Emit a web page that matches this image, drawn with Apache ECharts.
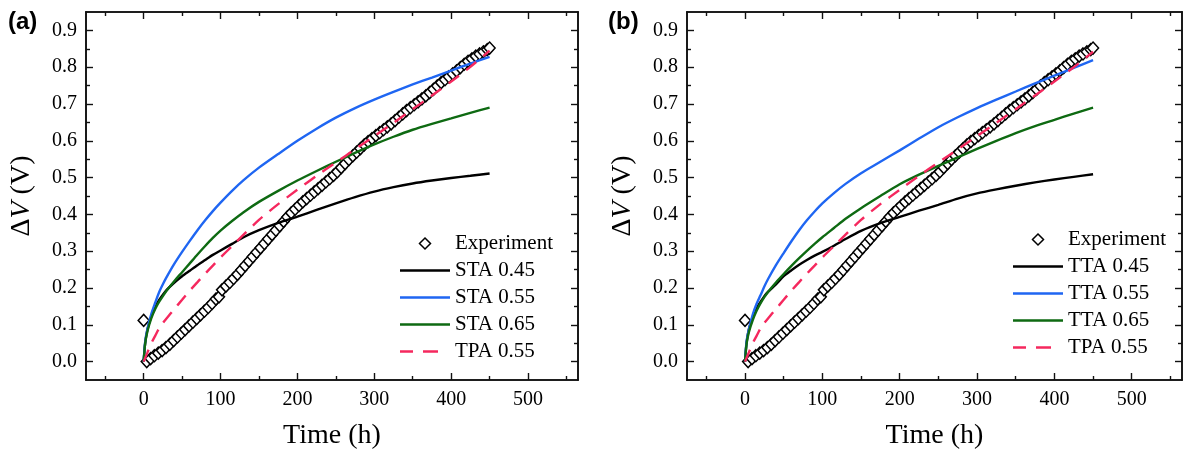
<!DOCTYPE html>
<html lang="en">
<head>
<meta charset="UTF-8">
<title>ΔV vs time</title>
<script src="https://cdn.jsdelivr.net/npm/echarts@6/dist/echarts.min.js"></script>
<style>
  html, body { margin: 0; padding: 0; background: #fff; }
  #chart { width: 1188px; height: 452px; }
</style>
</head>
<body>
<div id="chart"></div>
<script>
// experiment (same in both panels)
const expT = [0, 4, 9, 14, 19, 24, 29, 34, 39, 44, 49, 54, 59, 64, 69, 74, 79, 84, 89, 94, 98,
  102, 107, 112, 117, 122, 127, 132, 137, 142, 147, 152, 157, 162, 167, 172, 177, 182, 187, 192, 197,
  202, 207, 212, 217, 222, 227, 232, 237, 242, 247, 252, 257, 262, 267, 272, 277, 282, 287, 292, 297,
  302, 307, 312, 317, 322, 327, 332, 337, 342, 347, 352, 357, 362, 367, 372, 377, 382, 387, 392, 397,
  402, 407, 412, 417, 422, 427, 432, 437, 442, 447, 450];
const expV = [0.112, 0.0, 0.008, 0.016, 0.023, 0.03, 0.038, 0.047, 0.057, 0.067, 0.077, 0.087, 0.097, 0.107, 0.117, 0.127, 0.137, 0.147, 0.158, 0.17, 0.176,
  0.195, 0.205, 0.215, 0.226, 0.237, 0.249, 0.261, 0.273, 0.285, 0.297, 0.309, 0.321, 0.333, 0.345, 0.357, 0.369, 0.381, 0.393, 0.404, 0.414,
  0.424, 0.434, 0.443, 0.452, 0.461, 0.47, 0.479, 0.488, 0.497, 0.506, 0.516, 0.527, 0.538, 0.549, 0.559, 0.569, 0.579, 0.589, 0.598, 0.606,
  0.614, 0.622, 0.63, 0.638, 0.646, 0.655, 0.664, 0.673, 0.682, 0.69, 0.698, 0.706, 0.714, 0.722, 0.731, 0.74, 0.749, 0.758, 0.766, 0.774,
  0.782, 0.79, 0.799, 0.808, 0.816, 0.823, 0.83, 0.836, 0.842, 0.848, 0.852];

// model curves, sampled at fitT
const fitT = [0, 2, 5, 10, 15, 20, 25, 30, 40, 50, 60, 70, 80, 90, 100, 115, 130, 150, 175, 200, 225, 250, 275, 300, 325, 350, 375, 400, 425, 450];
// panel (a)
const sta45 = [0, 0.05, 0.088, 0.123, 0.148, 0.167, 0.182, 0.195, 0.215, 0.232, 0.247, 0.262, 0.276, 0.29, 0.302, 0.32, 0.338, 0.357, 0.377, 0.394, 0.412, 0.43, 0.447, 0.462, 0.474, 0.484, 0.492, 0.499, 0.505, 0.511];
const sta55 = [0, 0.055, 0.09, 0.13, 0.16, 0.188, 0.21, 0.23, 0.266, 0.298, 0.328, 0.357, 0.384, 0.409, 0.432, 0.464, 0.493, 0.527, 0.564, 0.6, 0.633, 0.663, 0.689, 0.712, 0.733, 0.753, 0.772, 0.791, 0.81, 0.828];
const sta65 = [0, 0.05, 0.083, 0.118, 0.143, 0.162, 0.178, 0.193, 0.219, 0.243, 0.267, 0.291, 0.314, 0.336, 0.356, 0.382, 0.406, 0.434, 0.464, 0.492, 0.518, 0.543, 0.567, 0.59, 0.611, 0.63, 0.646, 0.661, 0.676, 0.69];
const tpaA = [0, 0.01, 0.025, 0.05, 0.07, 0.09, 0.105, 0.118, 0.143, 0.168, 0.193, 0.216, 0.239, 0.261, 0.283, 0.314, 0.345, 0.385, 0.428, 0.467, 0.505, 0.541, 0.577, 0.613, 0.649, 0.686, 0.723, 0.761, 0.801, 0.845];
// panel (b)
const tta45 = [0, 0.05, 0.088, 0.122, 0.145, 0.162, 0.178, 0.19, 0.21, 0.232, 0.248, 0.263, 0.276, 0.288, 0.298, 0.315, 0.333, 0.355, 0.376, 0.393, 0.41, 0.426, 0.443, 0.457, 0.468, 0.478, 0.487, 0.495, 0.502, 0.509];
const tta55 = [0, 0.055, 0.088, 0.128, 0.157, 0.18, 0.204, 0.225, 0.262, 0.295, 0.327, 0.357, 0.384, 0.408, 0.43, 0.458, 0.483, 0.512, 0.543, 0.574, 0.606, 0.637, 0.664, 0.689, 0.712, 0.734, 0.756, 0.777, 0.798, 0.819];
const tta65 = [0, 0.048, 0.08, 0.113, 0.138, 0.158, 0.175, 0.19, 0.215, 0.238, 0.26, 0.281, 0.301, 0.32, 0.338, 0.363, 0.388, 0.417, 0.45, 0.482, 0.508, 0.532, 0.555, 0.578, 0.6, 0.621, 0.64, 0.657, 0.674, 0.69];
const tpaB = [0, 0.01, 0.025, 0.05, 0.07, 0.09, 0.105, 0.118, 0.143, 0.168, 0.193, 0.216, 0.239, 0.261, 0.283, 0.314, 0.345, 0.385, 0.428, 0.467, 0.505, 0.541, 0.577, 0.613, 0.649, 0.686, 0.723, 0.761, 0.8, 0.842];

// ticks
const xMajor = [0, 100, 200, 300, 400, 500];
const xMinor = [-50, 50, 150, 250, 350, 450, 550];
const yMajor = [0, 0.1, 0.2, 0.3, 0.4, 0.5, 0.6, 0.7, 0.8, 0.9];
const yMinor = [0.05, 0.15, 0.25, 0.35, 0.45, 0.55, 0.65, 0.75, 0.85];

const SERIF = '"Liberation Serif", "Times New Roman", serif';
const INK = '#111';
const pair = (xs, ys) => xs.map((x, i) => [x, ys[i]]);

const chart = echarts.init(document.getElementById('chart'));

const grids = [
  { left: 86, top: 12, width: 492, height: 368, outerBoundsMode: 'none', containLabel: false },
  { left: 687, top: 12, width: 495, height: 368, outerBoundsMode: 'none', containLabel: false }
];

function xAx(g, pos, ticks, len, main) {
  return {
    type: 'value', gridIndex: g, position: pos, min: -75, max: 565,
    axisLine: { show: true, onZero: false, lineStyle: { color: INK, width: 1.6 } },
    axisTick: { show: true, inside: true, length: len, customValues: ticks, lineStyle: { color: INK, width: 1.4 } },
    axisLabel: main ? { show: true, customValues: xMajor, margin: 10, fontSize: 20, fontFamily: SERIF, color: '#000' } : { show: false },
    splitLine: { show: false },
    name: main ? 'Time (h)' : '',
    nameLocation: 'middle', nameGap: 42,
    nameTextStyle: { fontFamily: SERIF, fontSize: 28, color: '#000' }
  };
}

function yAx(g, pos, ticks, len, main) {
  return {
    type: 'value', gridIndex: g, position: pos, min: -0.05, max: 0.95,
    axisLine: { show: true, onZero: false, lineStyle: { color: INK, width: 1.6 } },
    axisTick: { show: true, inside: true, length: len, customValues: ticks, lineStyle: { color: INK, width: 1.4 } },
    axisLabel: main ? { show: true, customValues: yMajor, margin: 9, fontSize: 20, fontFamily: SERIF, color: '#000',
      formatter: v => v.toFixed(1) } : { show: false },
    splitLine: { show: false },
    name: main ? '{n|Δ}{i|V}{n| (V)}' : '',
    nameLocation: 'middle', nameGap: 50,
    nameTextStyle: {
      fontFamily: SERIF, fontSize: 28, color: '#000',
      rich: {
        n: { fontFamily: SERIF, fontSize: 28, color: '#000' },
        i: { fontFamily: SERIF, fontSize: 28, fontStyle: 'italic', color: '#000' }
      }
    }
  };
}

const xAxes = [], yAxes = [];
[0, 1].forEach(g => {
  xAxes.push(xAx(g, 'bottom', xMajor, 7, true), xAx(g, 'bottom', xMinor, 4, false),
             xAx(g, 'top', xMajor, 7, false), xAx(g, 'top', xMinor, 4, false));
  yAxes.push(yAx(g, 'left', yMajor, 7, true), yAx(g, 'left', yMinor, 4, false),
             yAx(g, 'right', yMajor, 7, false), yAx(g, 'right', yMinor, 4, false));
});

const BLACK = '#000000', BLUE = '#1f66f2', GREEN = '#0e6a12', RED = '#f5285e';

function lineS(name, g, ys, color, dashed) {
  return {
    name: name, type: 'line', xAxisIndex: g * 4, yAxisIndex: g * 4,
    data: pair(fitT, ys), smooth: 0.25, symbol: 'none', z: 3,
    lineStyle: { color: color, width: 2.4, type: dashed ? [13, 9] : 'solid' },
    itemStyle: { color: color }
  };
}

function expS(g) {
  return {
    name: 'Experiment', type: 'scatter', xAxisIndex: g * 4, yAxisIndex: g * 4,
    data: pair(expT, expV), symbol: 'diamond', symbolSize: [11, 12], z: 2,
    itemStyle: { color: '#fff', borderColor: '#000', borderWidth: 1.5, opacity: 1 }
  };
}

// legend icons (50 x 11 box)
const ICON_DIAMOND = 'path://M5,0L10,5L5,10L0,5Z';
const ICON_SOLID = 'path://M0,4.3H50V6.7H0Z M0,0L0,11 M50,0L50,11';
const ICON_DASH = 'path://M0,4.3H13V6.7H0Z M23,4.3H38V6.7H23Z M0,0L0,11 M50,0L50,11';

function legendItems(names, colors) {
  return names.map((n, i) => i === 0
    ? { name: n, icon: ICON_DIAMOND, itemStyle: { color: '#fff', borderColor: '#000', borderWidth: 1.5 } }
    : { name: n, icon: i === 4 ? ICON_DASH : ICON_SOLID, itemStyle: { color: colors[i], borderWidth: 0 } });
}

const namesA = ['Experiment', 'STA 0.45', 'STA 0.55', 'STA 0.65', 'TPA 0.55'];
const namesB = ['Experiment', 'TTA 0.45', 'TTA 0.55', 'TTA 0.65', 'TPA 0.55'];
const legendColors = [null, BLACK, BLUE, GREEN, RED];

const series = [
  expS(0),
  lineS('STA 0.45', 0, sta45, BLACK),
  lineS('STA 0.55', 0, sta55, BLUE),
  lineS('STA 0.65', 0, sta65, GREEN),
  lineS('TPA 0.55', 0, tpaA, RED, true),
  expS(1),
  lineS('TTA 0.45', 1, tta45, BLACK),
  lineS('TTA 0.55', 1, tta55, BLUE),
  lineS('TTA 0.65', 1, tta65, GREEN),
  lineS('TPA 0.55', 1, tpaB, RED, true)
];

function legendAt(left, top, names) {
  return {
    orient: 'vertical', left: left, top: top, padding: 0,
    itemWidth: 50, itemHeight: 11, itemGap: 6, selectedMode: false,
    textStyle: { fontFamily: SERIF, fontSize: 21, lineHeight: 21, color: '#000' },
    data: legendItems(names, legendColors)
  };
}

chart.setOption({
  animation: false,
  backgroundColor: '#fff',
  grid: grids,
  xAxis: xAxes,
  yAxis: yAxes,
  legend: [legendAt(400, 233, namesA), legendAt(1013, 229, namesB)],
  graphic: [
    { type: 'text', left: 8, top: 10, style: { text: '(a)', font: 'bold 24px "Liberation Sans", Arial, sans-serif', fill: '#000' } },
    { type: 'text', left: 608, top: 10, style: { text: '(b)', font: 'bold 24px "Liberation Sans", Arial, sans-serif', fill: '#000' } }
  ],
  series: series
});
</script>
</body>
</html>
